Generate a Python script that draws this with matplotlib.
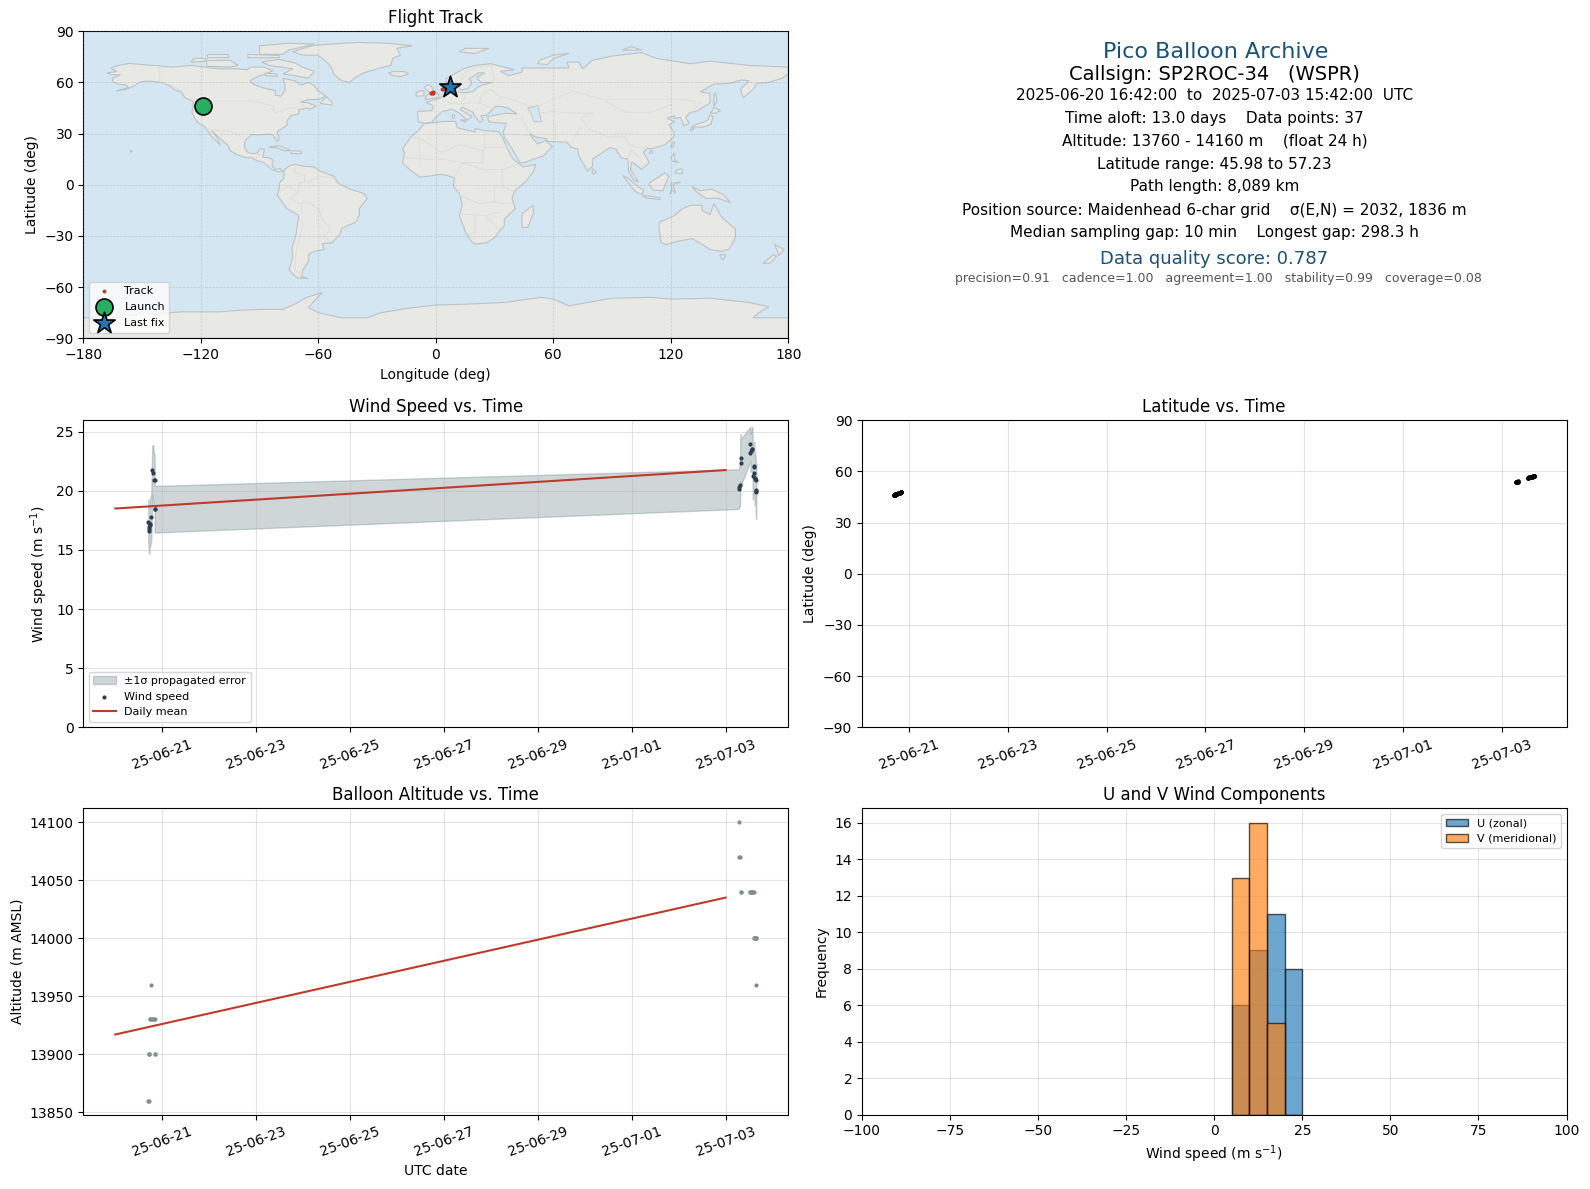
from datetime import datetime

import matplotlib
matplotlib.use("Agg")
import matplotlib.dates as mdates
import matplotlib.pyplot as plt
import numpy as np

# fix times in days relative to 2025-06-21 00:00 UTC
fix_days = [-0.298, -0.291, -0.284, -0.277, -0.273, -0.270, -0.262, -0.234, -0.213, -0.191, -0.184, -0.163, -0.160, -0.149,
            12.277, 12.290, 12.305, 12.319, 12.320, 12.530, 12.531, 12.550, 12.567, 12.574, 12.580, 12.596, 12.610, 12.611, 12.617, 12.625,
            12.638, 12.645, 12.650, 12.654]
wind_speed = [17.4, 17.25, 16.75, 16.6, 16.9, 17.1, 17.2, 17.8, 21.76, 21.53, 20.93, 20.93, 18.44, 18.44,
              20.14, 20.3, 20.45, 22.78, 22.35, 23.97, 23.2, 23.4, 23.54, 23.5, 21.27, 21.53, 22.07, 22.05, 21.1, 21.0,
              20.93, 20.1, 19.9, 20.0]
wind_err = [1.9, 1.9, 1.95, 1.95, 1.95, 1.95, 1.95, 2.0, 2.1, 2.3, 2.2, 2.2, 1.97, 1.97,
            1.68, 1.7, 1.75, 2.0, 2.0, 1.45, 1.6, 1.7, 1.8, 1.9, 2.0, 2.0, 2.1, 2.1, 2.1, 2.2,
            2.2, 2.3, 2.3, 2.3]
altitude = [13860, 13860, 13900, 13900, 13900, 13930, 13930, 13960, 13930, 13930, 13930, 13930, 13900, 13900,
            14070, 14100, 14070, 14040, 14040, 14040, 14040, 14040, 14040, 14040, 14040, 14040, 14000, 14000, 14000, 14000,
            14000, 13960, 14000, 14000]
latitude = [45.98, 46.1, 46.2, 46.3, 46.4, 46.5, 46.6, 46.9, 47.2, 47.4, 47.5, 47.7, 47.8, 48.0,
            53.9, 54.0, 54.0, 54.1, 54.2, 56.3, 56.4, 56.5, 56.6, 56.7, 56.8, 56.9, 57.0, 57.0, 57.1, 57.1,
            57.15, 57.2, 57.2, 57.23]
longitude = [-119.5, -119.4, -119.3, -119.2, -119.1, -119.0, -118.9, -118.7, -118.5, -118.3, -118.2, -118.0, -117.9, -117.7,
             -2.5, -2.2, -1.9, -1.6, -1.3, 3.4, 3.8, 4.2, 4.6, 5.0, 5.3, 5.6, 5.9, 6.1, 6.3, 6.5,
             6.7, 6.9, 7.0, 7.2]
launch_lon, launch_lat = -119.0, 45.98
last_lon, last_lat = 7.2, 57.23

mean_days = [-1.0, 12.0]
mean_wind = [18.5, 21.75]
mean_alt = [13917, 14035]

time_ticks = [datetime(2025, 6, 21), datetime(2025, 6, 23), datetime(2025, 6, 25), datetime(2025, 6, 27),
              datetime(2025, 6, 29), datetime(2025, 7, 1), datetime(2025, 7, 3)]

bin_edges = [5, 10, 15, 20]
u_counts = [6, 9, 11, 8]
v_counts = [13, 16, 5, 0]

info_title = "Pico Balloon Archive"
info_callsign = "Callsign: SP2ROC-34   (WSPR)"
info_lines = [
    "2025-06-20 16:42:00  to  2025-07-03 15:42:00  UTC",
    "Time aloft: 13.0 days    Data points: 37",
    "Altitude: 13760 - 14160 m    (float 24 h)",
    "Latitude range: 45.98 to 57.23",
    "Path length: 8,089 km",
    "Position source: Maidenhead 6-char grid    σ(E,N) = 2032, 1836 m",
    "Median sampling gap: 10 min    Longest gap: 298.3 h",
]
info_score = "Data quality score: 0.787"
info_parts = "precision=0.91   cadence=1.00   agreement=1.00   stability=0.99   coverage=0.08"

# rough coastlines, lon/lat
north_america = [(-168, 65.5), (-165, 64.5), (-161, 64.5), (-165, 62.5), (-165, 60.5), (-162, 59), (-158, 58.5), (-157, 57),
                 (-163, 55), (-158, 56), (-154, 58), (-152, 59.5), (-150, 60.5), (-146, 60.8), (-140, 60), (-136, 58),
                 (-133, 55.5), (-130, 54.5), (-128, 51), (-124, 49), (-124, 46), (-124.5, 42), (-122, 37), (-118, 34),
                 (-117, 32.5), (-115, 29), (-112, 25.5), (-110, 23), (-111, 26), (-113, 30), (-114.5, 31.5), (-112, 29),
                 (-109, 26), (-106, 23), (-105, 20), (-102, 18), (-97, 16), (-94, 16), (-92, 14.5), (-88, 13), (-86, 11.5),
                 (-85, 10), (-83, 8.5), (-80, 7.5), (-78, 8), (-79.5, 9.5), (-82, 9), (-83.5, 11), (-83.5, 15), (-86, 16),
                 (-88.5, 16), (-88, 18), (-87.5, 21), (-90, 21), (-91, 18.7), (-94, 18.2), (-96, 19), (-97.8, 22),
                 (-97.3, 26), (-94, 29.5), (-90, 29.2), (-85, 29.8), (-83, 29), (-81, 25.3), (-80, 26.8), (-81, 31),
                 (-76, 35), (-76, 37.5), (-74, 40.5), (-70, 41.7), (-70, 44), (-66, 45), (-64, 44.5), (-61, 46), (-65, 48),
                 (-69, 48.5), (-65, 50), (-60, 50), (-56, 52), (-60, 55), (-62, 58), (-65, 60), (-69, 58.5), (-72, 61),
                 (-78, 62.5), (-77, 58), (-77, 55.5), (-79, 52), (-82, 52.5), (-82, 55.2), (-88, 56.8), (-93, 58.8),
                 (-95, 61), (-91, 63.5), (-87, 65), (-83, 67), (-88, 69), (-95, 69), (-96, 67.5), (-102, 68), (-110, 68),
                 (-115, 68.5), (-125, 70), (-135, 69), (-141, 69.7), (-150, 70.5), (-156.5, 71.2), (-162, 70), (-166, 68.5),
                 (-163, 66.5)]
south_america = [(-78, 8), (-75, 11), (-72, 12), (-68, 11), (-62, 10.5), (-60, 8.5), (-52, 5), (-50, 1), (-44, -2.5), (-37, -5),
                 (-35, -8), (-39, -14), (-39, -18), (-41, -22), (-48, -25.5), (-49, -29), (-53, -34), (-58, -34.5), (-57, -38),
                 (-62, -39), (-65, -41), (-65, -45), (-68, -50), (-68.5, -54), (-65, -55), (-71, -54.5), (-75, -50), (-73, -42),
                 (-73.5, -37), (-71.5, -30), (-70, -18), (-76, -14), (-81, -6), (-80, -2.5), (-80, 1), (-77.5, 4), (-77.5, 7.5)]
africa = [(-6, 35.8), (3, 37), (10, 37.3), (11, 33.5), (15, 32.3), (20, 31), (20, 33), (25, 31.8), (32, 31.2), (34, 28), (35.5, 24),
          (37.5, 19), (39.5, 15), (43, 12), (44.5, 10.5), (51, 12), (50, 8), (46, 2), (40, -4), (39, -8), (40.5, -14), (35, -20),
          (35, -24), (32.5, -27), (30, -31), (26, -34), (20, -34.8), (18, -33), (15, -27), (12, -18), (13.5, -12), (12, -5), (9, -1),
          (9.5, 4), (5, 5.8), (1, 6), (-4, 5), (-8, 4.5), (-13, 8.5), (-17, 13), (-16, 19), (-17, 21), (-13, 27.7), (-9.5, 31)]
eurasia = [(-5.5, 36), (-9, 37), (-9.3, 43), (-2, 43.5), (-1, 46), (-5, 48.5), (1.5, 50.5), (4, 52), (8, 54), (8.5, 57), (10.5, 57.5),
           (10, 54.5), (14, 54), (19, 54.5), (21, 57), (24, 58.5), (29, 60), (23, 60), (21, 63), (25, 65.5), (22, 65.8), (17, 62),
           (18.5, 60), (16.5, 56.5), (13, 55.5), (11, 59), (6, 58), (5, 62), (14, 68), (20, 70), (28, 71), (40, 67.5), (33, 66.5),
           (37, 64), (44, 66), (44, 68.5), (55, 68.5), (68, 68.5), (67, 72), (73, 72), (75, 68), (80, 73), (90, 75.5), (105, 77.5),
           (113, 74), (130, 71), (140, 72.5), (160, 70), (170, 69.5), (180, 69), (180, 65), (177, 62.5), (170, 60), (164, 59.5),
           (162, 56), (157, 51), (155.5, 56), (160, 61), (156, 61.5), (150, 59.5), (142, 59), (135, 54.5), (140, 53.5), (140, 48),
           (133, 43), (130, 42.5), (127.5, 39.5), (129.5, 36), (126.5, 34.5), (126, 37), (125, 39.5), (121.5, 39), (122, 40.5),
           (118, 39), (122, 37), (119, 35), (121.5, 31), (121.5, 28), (117, 23.5), (110, 21), (108, 21.5), (106, 19), (109, 13),
           (105, 9), (103, 11), (100, 13.5), (99.5, 9), (103.5, 1.5), (101, 3), (98.5, 8), (98, 15), (94.5, 16), (92, 21), (89, 21.8),
           (86.5, 20), (80, 15), (80, 11), (77.5, 8), (73, 17), (72.5, 21), (69, 22), (67, 25), (57, 25.5), (56.5, 27), (51, 28),
           (48, 30), (50, 26.5), (52, 24), (56, 26), (59.5, 22.5), (55, 17), (45, 13), (43, 13), (39, 21), (35, 28), (34.5, 31),
           (36, 36), (30, 36.5), (27, 37), (26.5, 40), (31, 41), (36, 42), (41.5, 41.5), (37, 45), (33, 46), (30.5, 46), (28, 43),
           (26, 40.8), (23, 40.5), (24, 38), (22.5, 36.5), (19.5, 41), (19, 42.5), (13.5, 45.5), (12.5, 44), (18.5, 40), (16, 38),
           (12, 42), (8.5, 44.3), (3.5, 43), (0, 39.5), (-2, 36.8)]
australia = [(114, -22), (122, -18), (126, -14), (130, -12), (136, -12), (136, -15), (140, -17.5), (142, -11), (146, -19), (153, -26),
             (153, -31), (150, -37.5), (146, -39), (140, -38), (136, -35), (131, -31.5), (124, -33), (118, -35), (115, -34), (114, -26)]
antarctica = [(-180, -90), (-180, -78), (-165, -78), (-150, -76), (-130, -74.5), (-110, -74.5), (-100, -73.5), (-85, -73), (-78, -73),
              (-72, -70), (-66, -66), (-58, -63.2), (-62, -68), (-65, -72), (-60, -75), (-48, -78), (-35, -78), (-28, -75), (-15, -72.5),
              (0, -70.5), (15, -70), (35, -69), (54, -66), (60, -67), (68, -71), (75, -69.5), (90, -66.5), (110, -66), (120, -67),
              (140, -66.5), (160, -69), (170, -71.5), (165, -75), (162, -78), (170, -78), (180, -78), (180, -90)]
islands = [
    [(-73, 78), (-68, 76), (-60, 76), (-55, 71), (-53, 68), (-52, 64.5), (-48, 61), (-44, 60), (-41, 63), (-37, 65.5), (-30, 68), (-23, 70),
     (-22, 74), (-18, 76), (-20, 80), (-12, 81.5), (-25, 83), (-40, 83.5), (-60, 82), (-65, 81)],
    [(-80, 73.5), (-72, 71.5), (-68, 69), (-62, 66.5), (-65, 62.5), (-72, 64), (-78, 65), (-73, 68), (-85, 70), (-89, 72)],
    [(-117, 69.5), (-105, 69), (-101, 70), (-105, 73), (-117, 72.8)],
    [(-125, 72), (-118, 72.3), (-117, 74), (-123, 74.3)],
    [(-90, 76.5), (-78, 76.5), (-75, 79), (-62, 82.5), (-75, 83), (-90, 81.5)],
    [(-96, 74.5), (-80, 74.5), (-80, 75.8), (-96, 76.5)],
    [(-117, 75), (-106, 75), (-106, 76.5), (-117, 76.5)],
    [(-87, 64), (-81, 63.5), (-81, 64.8), (-87, 65.5)],
    [(-59, 47.7), (-53, 46.7), (-53, 48.5), (-56, 51.5)],
    [(-85, 22), (-80, 23), (-74, 20), (-77.5, 20), (-82, 22)],
    [(-74, 18.3), (-68.5, 18.3), (-69, 19.7), (-73, 20)],
    [(-156, 19), (-155, 19.5), (-155.8, 20.2)],
    [(-5.5, 50), (1.5, 51.2), (1.5, 53), (-1.5, 55.5), (-2, 57.5), (-4, 58.7), (-6, 57), (-3, 54), (-5, 52)],
    [(-10, 52), (-6, 52.2), (-6, 55), (-8.5, 55), (-10, 54)],
    [(-24, 65.5), (-22, 64), (-18, 63.4), (-14, 65), (-16, 66.4), (-22, 66.4)],
    [(12, 78), (20, 77), (27, 80), (15, 80)],
    [(52, 71), (57, 70.5), (60, 74), (68, 77), (60, 76), (53, 73)],
    [(95, 79), (105, 79), (100, 81)],
    [(131, 34), (136, 33.7), (140.5, 35.5), (141.5, 40), (140, 41), (139, 38), (136, 36.5), (132, 35)],
    [(130, 31.5), (132, 33), (130.5, 33.8)],
    [(140, 42), (143, 42), (145.3, 43.5), (142, 45.5), (141, 43)],
    [(142, 46), (143.5, 49), (143, 54), (142, 53), (142, 48)],
    [(80, 9.5), (82, 7.5), (80.5, 6), (79.8, 8)],
    [(120, 16), (122, 18.5), (122, 14.5), (124, 13), (121, 13.8)],
    [(122, 7), (126, 6.5), (125.5, 9.5), (123, 8.5)],
    [(95.3, 5.5), (98, 4), (103, -1), (106, -3), (105.5, -5.8), (102, -4), (98.5, 1)],
    [(105.5, -6.5), (108.5, -6.5), (114.5, -7.7), (114.5, -8.7), (108, -7.8)],
    [(109, 1), (111, 2.5), (117, 7), (119, 5), (117.5, 1), (116, -3.5), (111, -3), (109, 0)],
    [(119.5, -5.5), (120.5, -2.5), (120, 1), (125, 1.5), (121, 0), (122.5, -5), (120.5, -3)],
    [(131, -1), (135, -3.5), (141, -2.5), (147, -6), (150.5, -10.5), (144, -7.8), (138, -8), (133, -4)],
    [(145, -41), (148, -41), (147, -43.5), (146, -43.5)],
    [(173, -35), (178, -38), (175, -41.5), (174.5, -39)],
    [(172.5, -41), (174, -42), (170.5, -46), (167, -46)],
    [(49.5, -12), (50, -16), (47, -25), (44, -25), (44, -17)],
    [(12.5, 38), (15.5, 38), (15, 36.7)],
    [(8.3, 41), (9.7, 41), (9.5, 39), (8.5, 39)],
    [(120, 22), (121, 25), (122, 25), (121, 22)],
    [(109, 19), (110.5, 20), (111, 19), (109.5, 18.2)],
]
caspian = [(47, 45), (52, 46.5), (53, 42), (54, 37), (50, 37), (49, 40.5)]
borders = [
    [(-123, 49), (-95, 49), (-89, 48), (-83, 46), (-82.5, 42.5), (-79, 43), (-75, 45), (-71, 45), (-67.5, 47), (-67, 45)],
    [(-141, 69.7), (-141, 60), (-135, 58.5), (-130, 55)],
    [(-117, 32.5), (-108, 31.5), (-106, 31.7), (-101, 29.5), (-97.3, 26)],
    [(-92, 14.5), (-91, 17.5), (-89, 18)],
    [(-51.5, 4), (-60, 5), (-64, 2), (-70, 1), (-70, -4), (-74, -8), (-70, -11), (-65, -10), (-60, -14), (-58, -20), (-55, -24), (-54, -27),
     (-57.5, -30), (-53.5, -33.5)],
    [(-70, -18), (-68, -23), (-70, -33), (-71.5, -40), (-72, -50), (-69, -52)],
    [(-69, -11), (-69, -17)],
    [(-72, 12), (-72, 7), (-67, 6), (-67, 1.5)],
    [(-80, -3.5), (-75, -1), (-70, -4)],
    [(-13, 27.7), (-8.7, 27.3), (-2, 23), (3, 19), (12, 23.5), (25, 20), (25, 31.8)],
    [(25, 22), (36.5, 22)],
    [(-17, 16), (-5, 15), (4, 15), (14, 13), (24, 13), (24, 20)],
    [(9, 4), (14, 13)],
    [(14, 13), (24, 9), (34, 9), (42, 12)],
    [(34, 9), (34, -1), (40, -4)],
    [(30, -1), (30, -10), (22, -11), (12, -6)],
    [(30, -10), (35, -11), (40.5, -11)],
    [(12, -17), (25, -18), (33, -16)],
    [(20, -18), (20, -28), (17, -29)],
    [(25, -18), (32, -26)],
    [(-8.7, 27.3), (-8, 10)],
    [(28, 56), (32, 52), (40, 50), (48, 46)],
    [(50, 45), (60, 50), (70, 55), (85, 50), (98, 50), (110, 50), (118, 50), (127, 50), (135, 48), (131, 43)],
    [(80, 42), (74, 39), (78, 33), (88, 28), (97, 28), (98, 24), (102, 22), (108, 21.5)],
    [(87, 49), (97, 42.5), (110, 42.5), (120, 47)],
    [(52, 42), (60, 43), (70, 42), (80, 42)],
    [(44, 39), (46, 34), (48, 30)],
    [(61, 36), (61, 26)],
    [(74, 34), (71, 28), (69, 24)],
    [(36, 30), (46, 29), (48, 29)],
    [(-1.8, 43.3), (3, 42.5)],
    [(2, 51), (6, 49), (8, 47.5), (13, 47.5), (17, 48), (22, 48), (28, 45.5)],
    [(14, 54), (15, 51), (13, 48.5)],
    [(22, 48), (24, 53), (28, 56)],
    [(12, 59), (15, 66), (20, 69), (28, 70), (30, 62), (28, 60)],
    [(98, 16), (100, 20), (105, 15), (105, 10)],
]

RED = "#c0392b"
DARK = "#2c3e50"
GREY = "#7f8c8d"
BAND = "#748a90"
BLUE = "#1a5276"
OCEAN = "#d4e6f1"
LAND = "#e8e8e4"
W, H = 1590, 1189


def px_axes(fig, left, top, right, bottom):
    return fig.add_axes([left / W, 1 - bottom / H, (right - left) / W, (bottom - top) / H])


def style_time(ax):
    ax.set_xticks(mdates.date2num(time_ticks))
    ax.xaxis.set_major_formatter(mdates.DateFormatter("%y-%m-%d"))
    ax.tick_params(axis="x", rotation=20)
    ax.grid(True, color="#b0b0b0", alpha=0.35)


def draw_map(ax):
    ax.set_facecolor(OCEAN)
    for shape in [north_america, south_america, africa, eurasia, australia, antarctica] + islands:
        ax.fill(*zip(*shape), facecolor=LAND, edgecolor="#bcc3c6", linewidth=0.8, zorder=1)
    ax.fill(*zip(*caspian), facecolor=OCEAN, edgecolor="#bcc3c6", linewidth=0.6, zorder=1.2)
    for line in borders:
        ax.plot(*zip(*line), color="#dcdcd8", linewidth=0.6, zorder=1.5)
    ax.scatter(longitude, latitude, s=8, color=RED, linewidths=0, zorder=4, label="Track")
    ax.scatter([launch_lon], [launch_lat], s=150, color="#27ae60", edgecolor="black", linewidth=1.2, zorder=5, label="Launch")
    ax.scatter([last_lon], [last_lat], s=260, marker="*", color="#1f77b4", edgecolor="black", linewidth=1.2, zorder=6, label="Last fix")
    ax.set_xlim(-180, 180)
    ax.set_ylim(-90, 90)
    ax.set_xticks(np.arange(-180, 181, 60))
    ax.set_yticks(np.arange(-90, 91, 30))
    ax.grid(True, color="#888888", alpha=0.3, linestyle="--", linewidth=0.5)
    ax.set_axisbelow(False)
    ax.set_xlabel("Longitude (deg)")
    ax.set_ylabel("Latitude (deg)")
    ax.set_title("Flight Track", fontsize=12)
    ax.legend(loc="lower left", fontsize=8, labelspacing=0.55, borderpad=0.4)


def draw_info(fig):
    # pixel positions of the text block, measured from the top of the figure
    def put(x, y, text, **kwargs):
        fig.text(x / W, 1 - y / H, text, ha="center", va="center", **kwargs)

    put(1215.5, 52, info_title, fontsize=16, color=BLUE)
    put(1214.5, 74, info_callsign, fontsize=14)
    for text, y in zip(info_lines, [95, 118, 141, 164, 187, 210, 233]):
        put(1214.5, y, text, fontsize=11)
    put(1214.5, 258.5, info_score, fontsize=13, color=BLUE)
    put(1218.0, 279, info_parts, fontsize=9, color="#555555")


def main():
    fig = plt.figure(figsize=(W / 100, H / 100), dpi=100)
    base = mdates.date2num(datetime(2025, 6, 21))
    t = base + np.array(fix_days)
    t_mean = base + np.array(mean_days)

    draw_map(px_axes(fig, 83.3, 31.3, 788.3, 338.3))
    draw_info(fig)

    ax = px_axes(fig, 83.3, 420.3, 788.3, 727.3)
    ax.fill_between(t, np.array(wind_speed) - np.array(wind_err), np.array(wind_speed) + np.array(wind_err),
                    color=BAND, alpha=0.35, label="±1σ propagated error")
    ax.scatter(t, wind_speed, s=9, color=DARK, linewidths=0, zorder=3, label="Wind speed")
    ax.plot(t_mean, mean_wind, color=RED, linewidth=1.5, label="Daily mean")
    ax.set_ylim(bottom=0)
    ax.set_ylabel("Wind speed (m s$^{-1}$)")
    ax.set_title("Wind Speed vs. Time", fontsize=12)
    style_time(ax)
    ax.legend(loc="lower left", fontsize=8)

    ax = px_axes(fig, 862.0, 420.3, 1566.5, 727.3)
    ax.scatter(t, latitude, s=11, color="black", linewidths=0)
    ax.set_ylim(-90, 90)
    ax.set_yticks(np.arange(-90, 91, 30))
    ax.set_ylabel("Latitude (deg)")
    ax.set_title("Latitude vs. Time", fontsize=12)
    style_time(ax)

    ax = px_axes(fig, 83.3, 808.3, 788.3, 1114.5)
    ax.scatter(t, altitude, s=9, color=GREY, linewidths=0)
    ax.plot(t_mean, mean_alt, color=RED, linewidth=1.5)
    ax.set_ylabel("Altitude (m AMSL)")
    ax.set_xlabel("UTC date")
    ax.set_title("Balloon Altitude vs. Time", fontsize=12)
    style_time(ax)

    ax = px_axes(fig, 862.0, 808.3, 1566.5, 1114.5)
    ax.bar(bin_edges, u_counts, width=5, align="edge", color="#1f77b4", alpha=0.65, edgecolor="black", label="U (zonal)")
    ax.bar(bin_edges, v_counts, width=5, align="edge", color="#ff7f0e", alpha=0.65, edgecolor="black", label="V (meridional)")
    ax.set_xlim(-100, 100)
    ax.set_xlabel("Wind speed (m s$^{-1}$)")
    ax.set_ylabel("Frequency")
    ax.set_title("U and V Wind Components", fontsize=12)
    ax.grid(True, color="#b0b0b0", alpha=0.35)
    ax.set_axisbelow(True)
    ax.legend(loc="upper right", fontsize=8)

    fig.savefig("out.png", dpi=100)


if __name__ == "__main__":
    main()
